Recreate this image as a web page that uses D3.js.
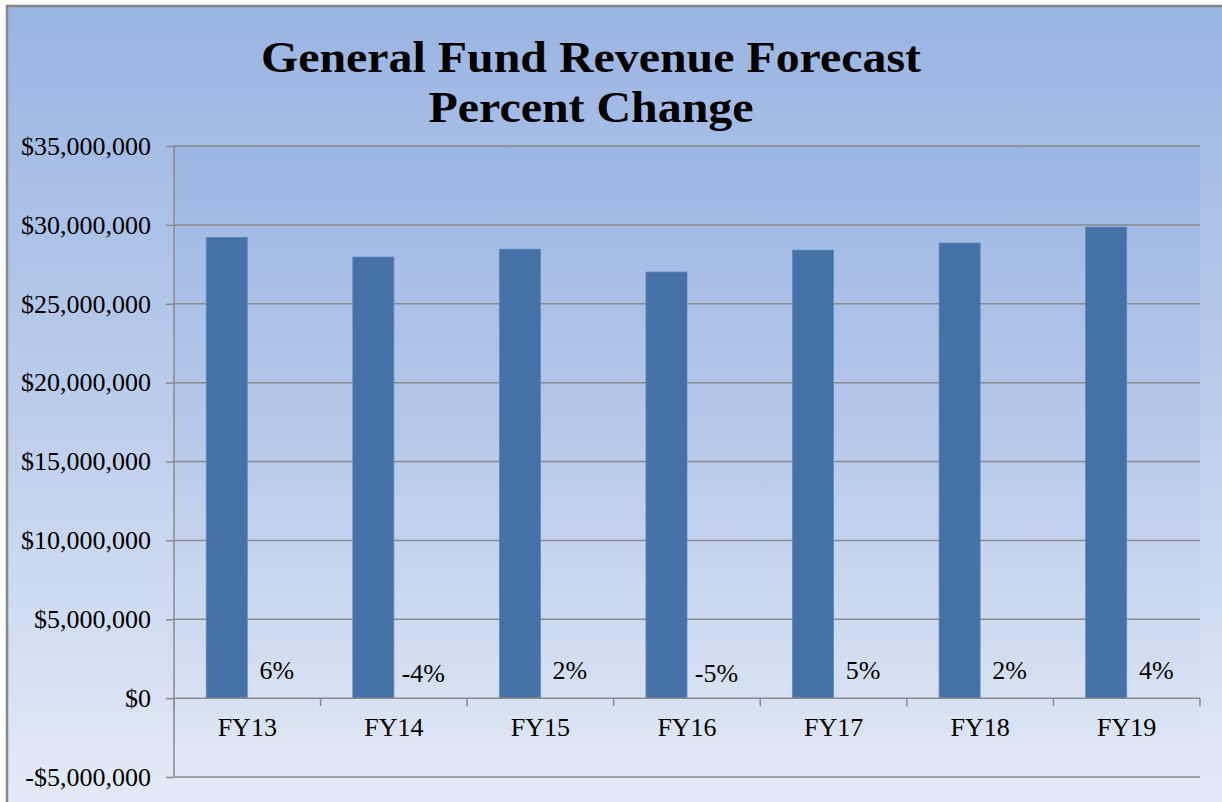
<!DOCTYPE html>
<html>

<head>
  <meta charset="utf-8">
  <title>General Fund Revenue Forecast</title>
  <script src="https://cdnjs.cloudflare.com/ajax/libs/d3/7.8.5/d3.min.js"></script>
  <style>
    html,
    body {
      margin: 0;
      padding: 0;
      background: #fff;
      overflow: hidden;
    }

    text {
      font-family: "Liberation Serif", "Times New Roman", serif;
      fill: #000;
    }
  </style>
</head>

<body>
  <svg id="chart"></svg>
  <script>
    // chart data
    const fiscalYears = ['FY13', 'FY14', 'FY15', 'FY16', 'FY17', 'FY18', 'FY19']
    const revenue = [29210000, 27960000, 28460000, 27010000, 28400000, 28850000, 29860000]
    const pctChange = [6, -4, 2, -5, 5, 2, 4]
    const yTicks = [-5000000, 0, 5000000, 10000000, 15000000, 20000000, 25000000, 30000000, 35000000]
    const titleLines = ['General Fund Revenue Forecast', 'Percent Change']

    let width = 1222
    let height = 802
    let plot = { left: 174, right: 1200, top: 146, bottom: 777 }
    let gridColor = '#8a8a8a'
    let barColor = '#4571a6'

    const svg = d3.select('#chart').attr('width', width).attr('height', height)
    const defs = svg.append('defs')

    const gradient = (id, stops) => {
      let g = defs.append('linearGradient').attr('id', id)
        .attr('x1', 0).attr('y1', 0).attr('x2', 0).attr('y2', 1)
      stops.forEach(s => g.append('stop').attr('offset', s[0]).attr('stop-color', s[1]))
    }
    gradient('chartBg', [[0, '#9ab4e2'], [0.5, '#bccdec'], [1, '#e5ebf7']])
    gradient('plotBg', [[0, '#9cb6e3'], [0.45, '#b6c8ea'], [1, '#e1e8f5']])

    // chart area with its frame
    svg.append('rect')
      .attr('x', 7).attr('y', 6)
      .attr('width', width + 10).attr('height', height + 10)
      .attr('fill', 'url(#chartBg)')
      .attr('stroke', '#878787').attr('stroke-width', 2.5)

    svg.append('rect')
      .attr('x', plot.left).attr('y', plot.top)
      .attr('width', plot.right - plot.left).attr('height', plot.bottom - plot.top)
      .attr('fill', 'url(#plotBg)')

    let x = d3.scaleBand().domain(fiscalYears).range([plot.left, plot.right])
    let y = d3.scaleLinear().domain([-5000000, 35000000]).range([plot.bottom, plot.top])
    let bw = x.bandwidth() * 0.28

    const money = d => (d < 0 ? '-$' : '$') + d3.format(',')(Math.abs(d))

    // gridlines
    svg.append('g')
      .selectAll('line')
      .data(yTicks.filter(d => d !== 0))
      .join('line')
      .attr('x1', plot.left).attr('x2', plot.right)
      .attr('y1', d => y(d)).attr('y2', d => y(d))
      .attr('stroke', gridColor).attr('stroke-width', 1.5)

    // y axis
    let yAxis = svg.append('g')
      .attr('transform', `translate(${plot.left},0)`)
      .call(d3.axisLeft(y).tickValues(yTicks).tickFormat(money).tickSize(8).tickPadding(15))
    yAxis.select('.domain').attr('stroke', gridColor).attr('stroke-width', 1.5)
      .attr('d', `M0,${plot.top}V${plot.bottom}`)
    yAxis.selectAll('.tick line').attr('stroke', gridColor).attr('stroke-width', 1.5)
    yAxis.selectAll('.tick text').attr('font-size', 26).attr('font-family', null).attr('fill', '#000')

    // bars
    svg.append('g')
      .selectAll('rect')
      .data(fiscalYears)
      .join('rect')
      .attr('x', (d, i) => x(d) + x.bandwidth() / 2 - bw)
      .attr('y', (d, i) => y(revenue[i]))
      .attr('width', bw)
      .attr('height', (d, i) => y(0) - y(revenue[i]))
      .attr('fill', barColor)
      .attr('stroke', '#5f88bb').attr('stroke-width', 0.8)

    // x axis at zero, ticks between categories
    let xAxis = svg.append('g').attr('transform', `translate(0,${y(0)})`)
    xAxis.append('line')
      .attr('x1', plot.left).attr('x2', plot.right)
      .attr('stroke', gridColor).attr('stroke-width', 1.5)
    xAxis.selectAll('line.tk')
      .data(fiscalYears.map(d => x(d) + x.bandwidth()).concat([plot.left]))
      .join('line').attr('class', 'tk')
      .attr('x1', d => d).attr('x2', d => d)
      .attr('y1', 0).attr('y2', 8)
      .attr('stroke', gridColor).attr('stroke-width', 1.5)
    xAxis.selectAll('text')
      .data(fiscalYears)
      .join('text')
      .attr('x', d => x(d) + x.bandwidth() / 2)
      .attr('y', 38)
      .attr('text-anchor', 'middle')
      .attr('font-size', 26)
      .text(d => d)

    // percent change labels
    svg.append('g')
      .selectAll('text')
      .data(pctChange)
      .join('text')
      .attr('x', (d, i) => x(fiscalYears[i]) + x.bandwidth() / 2 + bw / 2 + 9)
      .attr('y', d => y(0) - (d < 0 ? 16 : 19))
      .attr('text-anchor', 'middle')
      .attr('font-size', 26)
      .text(d => d + '%')

    // title (the original face is a little wider than Liberation Serif)
    svg.append('g')
      .selectAll('text')
      .data(titleLines)
      .join('text')
      .attr('x', 591)
      .attr('y', (d, i) => 72 + i * 50)
      .attr('text-anchor', 'middle')
      .attr('font-size', 45)
      .attr('font-weight', 'bold')
      .attr('textLength', (d, i) => i === 0 ? 660 : 325)
      .attr('lengthAdjust', 'spacingAndGlyphs')
      .text(d => d)
  </script>
</body>

</html>
